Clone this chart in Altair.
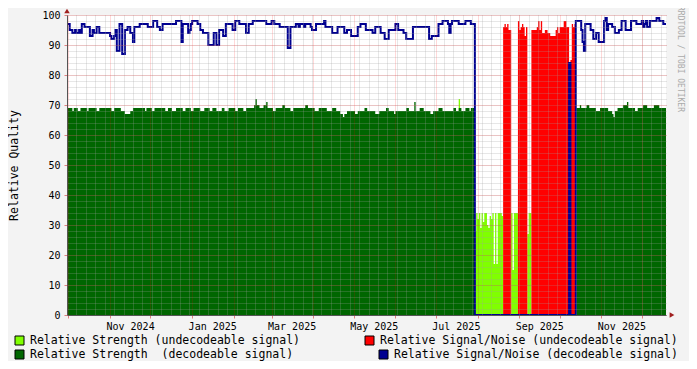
import altair as alt
import pandas as pd

# ---------------- data ----------------
START = "2024-09-30"          # first day shown
N_DAYS = 445                  # days on the x axis

# Relative Signal/Noise (decodeable) as (value, days) runs
SNR_DEC_RUNS = [
    (97, 2), (95, 2), (94, 2), (95, 1), (94, 2), (95, 1), (94, 1), (97, 2), (96, 4), (93, 2),
    (95, 1), (94, 2), (96, 2), (94, 8), (93, 1), (92, 2), (93, 1), (95, 1), (88, 2), (97, 2),
    (87, 2), (95, 2), (96, 2), (94, 2), (91, 1), (96, 4), (97, 6), (96, 4), (98, 3), (96, 2),
    (95, 2), (97, 10), (98, 4), (91, 1), (97, 4), (94, 1), (95, 1), (97, 1), (98, 4), (97, 2),
    (95, 2), (94, 4), (90, 4), (94, 2), (90, 2), (95, 3), (93, 2), (97, 5), (95, 2), (98, 3),
    (97, 5), (94, 2), (97, 3), (98, 10), (97, 4), (98, 2), (97, 4), (96, 6), (89, 2), (96, 4),
    (97, 2), (96, 1), (97, 3), (96, 1), (97, 4), (96, 1), (95, 3), (97, 6), (98, 1), (96, 5),
    (94, 4), (96, 5), (94, 2), (95, 3), (93, 5), (96, 2), (97, 4), (95, 5), (94, 2), (96, 4),
    (94, 3), (92, 3), (95, 5), (97, 2), (95, 4), (94, 2), (92, 5), (96, 12), (92, 2), (93, 5),
    (97, 3), (98, 4), (97, 1), (94, 1), (97, 1), (98, 5), (97, 5), (98, 4), (97, 3),
    (0, 70), (84, 1), (0, 4),
    (98, 4), (95, 1), (91, 1), (88, 1), (97, 4), (95, 1), (95, 1), (92, 2), (94, 2), (91, 4),
    (98, 1), (99, 1), (95, 1), (97, 3), (96, 2), (94, 3), (95, 2), (98, 3), (95, 4), (98, 4),
    (97, 4), (98, 1), (96, 1), (97, 1), (98, 1), (96, 2), (98, 5), (99, 2), (98, 3), (97, 2),
]

# Relative Strength (decodeable) as (value, days) runs
STR_DEC_RUNS = [
    (69, 4), (68, 1), (69, 3), (68, 2), (69, 5), (68, 1), (69, 6), (68, 2), (69, 6),
    (69, 3), (68, 2), (69, 5), (68, 3), (67, 4), (68, 2), (69, 3),
    (69, 6), (68, 1), (69, 4), (68, 2), (69, 8), (68, 2), (69, 3), (68, 3), (69, 5), (68, 2),
    (69, 4), (68, 2), (69, 5),
    (68, 3), (69, 4), (68, 2), (69, 3), (68, 4), (69, 2), (68, 3), (69, 5), (68, 2), (69, 4),
    (68, 2), (69, 3),
    (69, 3), (70, 1), (72, 1), (70, 2), (69, 3), (70, 2), (71, 1), (69, 4), (68, 2), (69, 5),
    (70, 2), (69, 4), (68, 2), (69, 5),
    (69, 4), (70, 2), (69, 5), (68, 3), (69, 6), (68, 4), (69, 3), (68, 3), (67, 2), (66, 1),
    (67, 2), (68, 2),
    (68, 4), (67, 2), (68, 5), (69, 2), (68, 6), (67, 3), (68, 5), (69, 2), (68, 4), (67, 1),
    (68, 3),
    (68, 5), (69, 2), (68, 4), (71, 1), (68, 3), (69, 3), (68, 5), (67, 2), (68, 4), (69, 3),
    (68, 5),
    (68, 3), (69, 2), (68, 2), (69, 2), (68, 3), (69, 3), (68, 1), (69, 3),
    (0, 75),
    (69, 3), (70, 1), (69, 4), (70, 2), (69, 5), (68, 3), (69, 6), (68, 3), (67, 1), (66, 1),
    (68, 2), (69, 4), (70, 3), (71, 1), (69, 5), (68, 2), (69, 4), (70, 3), (69, 5), (70, 4),
    (69, 5),
]

# Relative Strength (undecodeable) per day inside the outage, runs elsewhere
STR_UNDEC_BEFORE = [(0, 291), (72, 1), (0, 11)]
STR_UNDEC_OUTAGE = [28, 34, 32, 34, 29, 34, 31, 34, 34, 30, 29, 33, 32, 34, 17, 34, 17, 34, 34, 34, 33,
                    0, 0, 0, 0, 0, 0,
                    34, 15, 34, 34, 34,
                    0, 0, 0, 0, 0, 0, 0,
                    27, 34, 34] + [0] * 33
STR_UNDEC_AFTER = [(0, 67)]

# Relative Signal/Noise (undecodeable)
SNR_UNDEC_BEFORE = [(0, 303)]
SNR_UNDEC_OUTAGE = [0] * 21 + [96, 97, 96, 97, 95, 95] + [0] * 5 + [98, 95, 96, 97, 96, 93, 96] + [0] * 3 + \
    [95, 95, 95, 95, 96, 98, 95, 98, 94, 94, 95, 95, 94, 94, 93, 93, 93, 93, 95, 96, 94, 96, 96, 96,
     98, 98, 96, 96] + [0] + [85, 97, 96, 97]
SNR_UNDEC_AFTER = [(0, 67)]

Y_LABELS = list(range(0, 101, 10))
Y_MINOR = list(range(0, 101, 2))

LEGEND = [
    "Relative Strength (undecodeable signal)",
    "Relative Strength\u00a0 (decodeable signal)",
    "Relative Signal/Noise (undecodeable signal)",
    "Relative Signal/Noise (decodeable signal)",
]
COLORS = ["#80ff00", "#006600", "#ff0000", "#000090"]


def expand(runs):
    out = []
    for v, n in runs:
        out += [v] * n
    return out


snr_dec = expand(SNR_DEC_RUNS)
str_dec = expand(STR_DEC_RUNS)
str_undec = expand(STR_UNDEC_BEFORE) + STR_UNDEC_OUTAGE + expand(STR_UNDEC_AFTER)
snr_undec = expand(SNR_UNDEC_BEFORE) + SNR_UNDEC_OUTAGE + expand(SNR_UNDEC_AFTER)

DAY_MS = 86400000
t0 = int(pd.Timestamp(START).timestamp() * 1000)
t_end = t0 + N_DAYS * DAY_MS


def series_df(vals):
    vals = list(vals)[:N_DAYS]
    days = list(range(len(vals))) + [len(vals)]
    vv = vals + [vals[-1]]
    return pd.DataFrame({"t": [t0 + d * DAY_MS for d in days], "v": vv})


week_ts = [int(x.timestamp() * 1000) for x in pd.date_range(START, periods=N_DAYS // 7 + 1, freq="7D")]
month_ts = [int(x.timestamp() * 1000) for x in pd.date_range("2024-10-01", "2025-12-01", freq="MS")]

xscale = alt.Scale(type="utc", domain=[t0, t_end])
yscale = alt.Scale(domain=[0, 100], nice=False, zero=True)

MONO = "DejaVu Sans Mono"
GRID_MINOR = dict(grid=True, gridColor="#a0a0a0", gridOpacity=0.5, gridDash=[1, 1], gridWidth=1)
GRID_MAJOR = dict(grid=True, gridColor="#ff0000", gridOpacity=0.3, gridDash=[1, 1], gridWidth=1)

# layer 1: light green + minor grid
l1 = alt.Chart(series_df(str_undec)).mark_area(interpolate="step-after", color=COLORS[0], opacity=1).encode(
    x=alt.X("t:T", scale=xscale, axis=alt.Axis(orient="bottom", values=week_ts, labels=False, ticks=False,
                                               domain=False, title=None, zindex=1, **GRID_MINOR)),
    y=alt.Y("v:Q", scale=yscale, axis=alt.Axis(orient="left", values=Y_MINOR, labels=False, ticks=False,
                                               domain=False, title=None, zindex=1, **GRID_MINOR)),
)

# layer 2: dark green + major grid, labels
l2 = alt.Chart(series_df(str_dec)).mark_area(interpolate="step-after", color=COLORS[1], opacity=1).encode(
    x=alt.X("t:T", scale=xscale, axis=alt.Axis(
        orient="bottom", values=month_ts, ticks=True, tickColor="#e08080", tickSize=3,
        domain=True, domainColor="#555555",
        labelExpr="utcmonth(datum.value) % 2 == 0 ? utcFormat(datum.value, '%b %Y') : ''",
        labelOffset=20, labelPadding=3, labelFlush=False, labelOverlap=False,
        labelFont=MONO, labelFontSize=10, labelColor="#000000",
        title=None, zindex=1, **GRID_MAJOR)),
    y=alt.Y("v:Q", scale=yscale, axis=alt.Axis(
        orient="left", values=Y_LABELS, ticks=True, tickColor="#e08080", tickSize=3,
        domain=True, domainColor="#555555", labelPadding=4, labelFlush=False,
        labelFont=MONO, labelFontSize=10, labelColor="#000000",
        title="Relative Quality", titleFont=MONO, titleFontSize=11.5, titleFontWeight="normal",
        titleColor="#000000", titleX=-53, titleY=150, titleAngle=270, titleAlign="center",
        titleBaseline="middle", zindex=1, **GRID_MAJOR)),
)

l3 = alt.Chart(series_df(snr_undec)).mark_area(interpolate="step-after", color=COLORS[2], opacity=1).encode(
    x=alt.X("t:T", scale=xscale, axis=None),
    y=alt.Y("v:Q", scale=yscale, axis=None),
)

l4 = alt.Chart(series_df(snr_dec)).mark_line(interpolate="step-after", color=COLORS[3], strokeWidth=2,
                                              strokeJoin="miter").encode(
    x=alt.X("t:T", scale=xscale, axis=None),
    y=alt.Y("v:Q", scale=yscale, axis=None),
)

deco_df = pd.DataFrame({"k": [0]})

watermark = alt.Chart(deco_df).mark_text(
    text="RRDTOOL / TOBI OETIKER", angle=90, font=MONO, fontSize=8, color="#aaaaaa",
    align="center", baseline="middle").encode(x=alt.value(613), y=alt.value(44))

arrow_up = alt.Chart(deco_df).mark_point(shape="triangle-up", filled=True, size=30, color="#a02020",
                                         opacity=1).encode(x=alt.value(0), y=alt.value(-4))
arrow_right = alt.Chart(deco_df).mark_point(shape="triangle-right", filled=True, size=30, color="#a02020",
                                            opacity=1).encode(x=alt.value(605), y=alt.value(300))

legend_pos = [(-52, 321, -37, 326), (-52, 335, -37, 340), (298, 321, 313, 326), (312, 335, 327, 340)]
legend_layers = []
for (sx, sy, tx, ty), label, col in zip(legend_pos, LEGEND, COLORS):
    legend_layers.append(alt.Chart(deco_df).mark_rect(color=col, stroke="#000000", strokeWidth=1).encode(
        x=alt.value(sx), x2=alt.value(sx + 9), y=alt.value(sy), y2=alt.value(sy + 9)))
    legend_layers.append(alt.Chart(deco_df).mark_text(
        text=label, align="left", baseline="middle", font=MONO, fontSize=11.5, color="#000000").encode(
        x=alt.value(tx), y=alt.value(ty)))

chart = alt.layer(l1, l2, l3, l4, watermark, arrow_up, arrow_right, *legend_layers).resolve_axis(
    x="independent", y="independent"
).properties(
    width=599, height=300,
    padding={"left": 59, "top": 7, "right": 23, "bottom": 46},
    autosize=alt.AutoSizeParams(type="none"),
    background="#f3f3f3",
).configure_view(stroke=None, fill="white")

chart.save("out.html", embed_options={"renderer": "svg", "actions": False})
